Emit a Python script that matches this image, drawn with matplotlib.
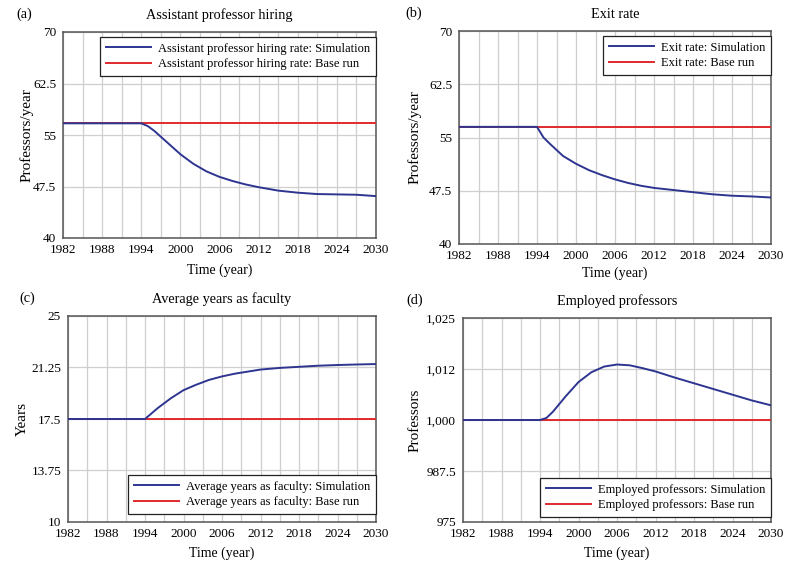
import matplotlib.pyplot as plt
import numpy as np

plt.rcParams['font.family'] = ['Liberation Serif', 'DejaVu Serif']

years = [1982, 1994, 1995, 1996, 1998, 2000, 2002, 2004, 2006, 2008,
         2010, 2012, 2015, 2018, 2021, 2024, 2027, 2030]

# (a) Assistant professor hiring rate (professors/year)
hiring_sim = [56.7, 56.7, 56.3, 55.6, 53.9, 52.2, 50.8, 49.7, 48.9, 48.3,
              47.8, 47.4, 46.9, 46.6, 46.4, 46.35, 46.3, 46.1]
hiring_base = 56.7

# (b) Exit rate (professors/year)
exit_sim = [56.5, 56.5, 55.0, 54.1, 52.4, 51.3, 50.4, 49.7, 49.1, 48.6,
            48.2, 47.9, 47.6, 47.3, 47.0, 46.8, 46.7, 46.55]
exit_base = 56.5

# (c) Average years as faculty
years_sim = [17.5, 17.5, 17.9, 18.3, 19.0, 19.6, 20.0, 20.35, 20.6, 20.8,
             20.95, 21.1, 21.22, 21.3, 21.38, 21.43, 21.47, 21.5]
years_base = 17.5

# (d) Employed professors
prof_sim = [1000, 1000, 1000.5, 1002.0, 1005.8, 1009.3, 1011.7, 1013.1, 1013.6,
            1013.4, 1012.7, 1011.9, 1010.4, 1009.0, 1007.6, 1006.2, 1004.8, 1003.6]
prof_base = 1000

ab_ticks = [40, 47.5, 55, 62.5, 70]
ab_labels = ['40', '47.5', '55', '62.5', '70']
c_ticks = [10, 13.75, 17.5, 21.25, 25]
c_labels = ['10', '13.75', '17.5', '21.25', '25']
d_ticks = [975, 987.5, 1000, 1012.5, 1025]
d_labels = ['975', '987.5', '1,000', '1,012', '1,025']

BLUE = '#2e3590'
RED = '#e02a2e'

W, H = 800, 567
fig = plt.figure(figsize=(8, 5.67), dpi=100)


def make_panel(box, tag, title, ylabel, sim, base, name, yticks, ylabels,
               leg_loc, leg_y, ylab_x, tag_x, xlab_y):
    left, top, right, bottom = box
    ax = fig.add_axes([left / W, 1 - bottom / H, (right - left) / W, (bottom - top) / H])
    ax.plot(years, [base] * len(years), color=RED, lw=1.4,
            label=name + ': Base run', zorder=3)
    ax.plot(years, sim, color=BLUE, lw=1.4, label=name + ': Simulation', zorder=4)
    ax.set_xlim(1982, 2030)
    ax.set_ylim(yticks[0], yticks[-1])
    ax.set_xticks(range(1982, 2031, 6))
    ax.set_xticks(range(1982, 2031, 3), minor=True)
    ax.set_yticks(yticks)
    ax.set_yticklabels(ylabels)
    ax.tick_params(length=0, which='both', labelsize=9.5, pad=5)
    ax.tick_params(axis='x', pad=4)
    ax.grid(True, which='both', axis='x', color='#cfcfcf', lw=0.9)
    ax.grid(True, which='major', axis='y', color='#cfcfcf', lw=0.9)
    for s in ax.spines.values():
        s.set_color('#555555')
        s.set_linewidth(1.1)
    ax.set_xlabel('Time (year)', fontsize=10)
    ax.xaxis.set_label_coords(0.5, -(xlab_y - bottom) / (bottom - top))
    ax.xaxis.label.set_va('center')
    ax.set_ylabel(ylabel, fontsize=11)
    ax.yaxis.set_label_coords((ylab_x - left) / (right - left), 0.5)
    ax.yaxis.label.set_va('center')
    ax.set_title(title, fontsize=10.3, pad=9)
    fig.text(tag_x / W, 1 - (top - 18) / H, tag, fontsize=10.3, ha='center', va='center')
    h, l = ax.get_legend_handles_labels()
    leg = ax.legend(h[::-1], l[::-1], loc=leg_loc, bbox_to_anchor=(1, leg_y),
                    borderaxespad=0, fontsize=9, handlelength=3.6,
                    handletextpad=0.6, labelspacing=0.3, borderpad=0.45,
                    fancybox=False, framealpha=1, edgecolor='#222222')
    leg.get_frame().set_linewidth(0.9)
    leg.set_zorder(5)
    return ax


make_panel((63, 32, 376, 238), '(a)', 'Assistant professor hiring', 'Professors/year',
           hiring_sim, hiring_base, 'Assistant professor hiring rate',
           ab_ticks, ab_labels, 'upper right', 1 - 5 / 206, 27, 24, 270)
make_panel((459, 31, 771, 244), '(b)', 'Exit rate', 'Professors/year',
           exit_sim, exit_base, 'Exit rate',
           ab_ticks, ab_labels, 'upper right', 1 - 5 / 213, 415, 414, 273)
make_panel((68, 316, 376, 522), '(c)', 'Average years as faculty', 'Years',
           years_sim, years_base, 'Average years as faculty',
           c_ticks, c_labels, 'lower right', 8 / 206, 22, 27, 553)
make_panel((463, 318, 771, 522), '(d)', 'Employed professors', 'Professors',
           prof_sim, prof_base, 'Employed professors',
           d_ticks, d_labels, 'lower right', 5 / 204, 415, 415, 553)

fig.savefig('out.png', dpi=100)
